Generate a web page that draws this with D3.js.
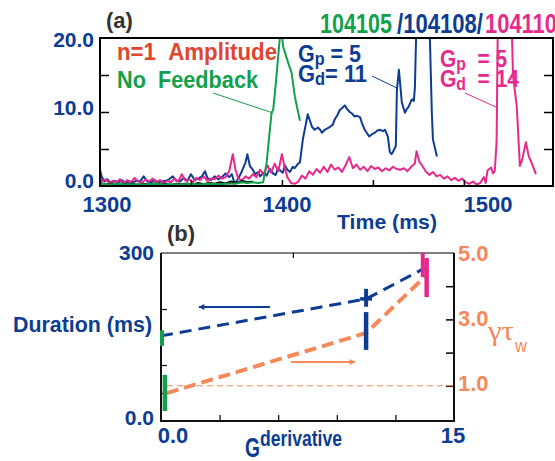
<!DOCTYPE html>
<html><head><meta charset="utf-8">
<script src="https://cdn.jsdelivr.net/npm/d3@7"></script>
<style>
body{margin:0;background:#fff}
svg{display:block}
text{font-family:"Liberation Sans",Arial,Helvetica,sans-serif;font-weight:bold;white-space:pre}
</style>
</head><body>
<svg id="chart" width="555" height="461"></svg>
<script>
// ---------- Panel (a) data ----------
const timeLabels = [1300, 1400, 1500];
const timeTicks = [1350, 1400, 1450, 1500];
const ampLabels = [0, 10, 20];
const ampTicks = [5, 10, 15];
const shotNames = ["104105", "/104108/", "104110"];

// 104105 : no feedback (green)
const shot104105 = [[1300,0.3],[1305,0.2],[1310,0.3],[1315,0.2],[1320,0.25],[1325,0.2],[1330,0.3],[1335,0.2],[1340,0.25],[1345,0.2],[1350,0.3],[1355,0.2],[1360,0.3],[1365,0.25],[1370,0.3],[1375,0.35],[1378,0.5],[1381,0.4],[1384,0.5],[1387,0.4],[1389.7,0.5],[1391.6,3.2],[1394.3,9.9],[1395.2,10.3],[1396.7,14],[1398.9,20.2],[1400,20.3],[1400.7,18.8],[1403.5,16.6],[1405.3,15.3],[1407.1,12.1],[1409.9,8.8]];

// 104108 : Gp=5, Gd=11 (blue)
const shot104108 = [[1300,2.2],[1301,1.2],[1302.5,0.6],[1304,0.9],[1306,0.4],[1308,0.7],[1310,0.5],[1312,0.8],[1314,0.4],[1316,0.6],[1318,0.5],[1320,0.7],[1322,0.6],[1324,1.3],[1326,0.6],[1328,0.5],[1330,0.8],[1332,0.5],[1334,0.6],[1336,0.7],[1338,0.9],[1340,1.3],[1342,0.7],[1344,0.6],[1346,1.1],[1348,0.7],[1350,1.6],[1352,0.8],[1354,1.0],[1356,1.3],[1357.7,2.0],[1359,1.1],[1361,0.8],[1363,1.3],[1365,0.9],[1367,1.2],[1369,1.7],[1371,1.2],[1372.5,1.6],[1374,0.3],[1376,1.0],[1378,2.0],[1380,3.2],[1381,4.3],[1382.4,2.7],[1384,2.2],[1385.3,1.6],[1387,1.9],[1388,1.3],[1390,1.8],[1391.5,1.4],[1393.4,2.3],[1395,1.7],[1396.5,1.5],[1398,2.4],[1399,2.1],[1400.5,1.8],[1401.6,2.8],[1403,2.2],[1404.4,1.9],[1406,2.6],[1407,2.4],[1408.8,3.0],[1409.9,3.2],[1411.5,6.3],[1414.2,9.7],[1416.5,8.0],[1418,7.6],[1419.8,7.9],[1421,7.6],[1422,7.2],[1423.5,7.6],[1425,7.8],[1426.4,8.0],[1428,8.3],[1429,9.0],[1430.5,9.6],[1431.9,10.3],[1433,10.5],[1434.6,10.9],[1435.5,10.5],[1437.3,10.0],[1438.5,9.8],[1439.8,9.4],[1441,9.5],[1442.9,9.3],[1444,8.5],[1445.5,7.6],[1446.6,7.2],[1448,6.7],[1449.5,7.0],[1451.1,7.2],[1452.5,7.5],[1454,7.6],[1455.5,7.4],[1456.6,7.6],[1458.2,6.7],[1459.3,4.6],[1460.2,4.3],[1461,4.6],[1462.6,5.4],[1463.2,13],[1464.3,15.7],[1465.9,11.3],[1467.6,9.9],[1468.6,10.4],[1469.6,10.7],[1471.4,11.7],[1472.5,11.5],[1473.1,13.4],[1474.2,25],[1480.8,25],[1482.4,9.9],[1483,6.3],[1485.2,4.0]];

// 104110 : Gp=5, Gd=14 (pink)
const shot104110 = [[1300,1.2],[1301,0.6],[1303,0.9],[1305,0.4],[1307,0.7],[1309,0.5],[1311,0.9],[1313,0.4],[1315,0.8],[1317,0.5],[1319,1.1],[1321,0.6],[1323,0.4],[1325,0.9],[1327,0.6],[1329,1.0],[1331,0.5],[1333,0.8],[1335,0.4],[1337,0.7],[1339,0.5],[1341,1.0],[1343,0.6],[1345,1.6],[1347,0.7],[1349,0.9],[1351,0.5],[1353,1.1],[1355,0.8],[1357,1.3],[1359,0.7],[1361,1.0],[1363,0.9],[1365,1.4],[1367,1.0],[1369,1.2],[1371,2.0],[1373,4.3],[1374.5,2.2],[1376,1.0],[1378,0.8],[1380,1.3],[1382,1.0],[1384,1.6],[1386,1.2],[1388,2.2],[1390,1.5],[1392,2.8],[1394,1.8],[1396,3.0],[1398,2.0],[1400,4.3],[1401.5,2.5],[1403,1.2],[1405,0.4],[1407,0.3],[1409,0.6],[1411,1.4],[1413,1.0],[1415,2.0],[1417,1.5],[1419,2.3],[1421,1.8],[1423,2.6],[1425,1.9],[1427,2.9],[1429,2.2],[1431,2.5],[1433,1.9],[1435,2.8],[1437,3.9],[1439,2.4],[1441,2.9],[1443,2.2],[1445,2.6],[1447,2.0],[1449,2.7],[1451,2.3],[1453,2.5],[1455,2.0],[1457,2.4],[1459,2.1],[1461,2.6],[1463,2.3],[1465,2.2],[1467,2.4],[1469,2.0],[1471,2.6],[1473,3.0],[1474,4.7],[1475.5,3.3],[1477,2.8],[1479,2.0],[1481,1.5],[1483,1.9],[1485,1.3],[1487,1.5],[1489,1.0],[1491,1.3],[1493,0.8],[1495,1.1],[1497,0.7],[1499,1.0],[1501,0.5],[1503,0.3],[1505,0.6],[1507,0.2],[1509,0.4],[1511,1.2],[1512,0.4],[1513,2.1],[1515,2.5],[1516,1.7],[1517,2.0],[1518,6],[1518.8,25],[1526,25],[1527,15],[1529.1,10.7],[1530.8,2.7],[1532,3.5],[1534.1,5.9],[1535.7,4.0],[1537.5,3.0],[1539.6,1.6]];

// baseline reference trace (black)
const baselineTrace = [[1300,0.4],[1303,0.2],[1306,0.3],[1309,0.15],[1312,0.35],[1315,0.2],[1318,0.3],[1321,0.15],[1324,0.3],[1327,0.2],[1330,0.35],[1333,0.2],[1336,0.3],[1339,0.15],[1342,0.3],[1345,0.25],[1348,0.35],[1351,0.2],[1354,0.4],[1357,0.25],[1360,0.45],[1363,0.3],[1366,0.5],[1369,0.35],[1372,0.6],[1375,0.4],[1378,0.7],[1381,0.5],[1384,0.6]];

// ---------- Panel (b) data ----------
const gainLabels = [0, 15];
const gainTicks = [3, 6, 9, 12];
const gainTopTicks = [6.75];
const durationLabels = [0, 300];
const durationTicks = [50, 100, 200];
const growthLabels = [1, 3, 5];
const growthTicks = [1, 2, 3, 4];

const durationG = [0, 10.5, 13.5];
const durationVals = [152, 218, 273];
const growthG = [0.3, 10.5, 13.5];
const growthVals = [0.78, 2.59, 4.28];

const durErrG = [0.05, 10.5, 13.4];
const durErrLo = [134, 204, 257];
const durErrHi = [162, 236, 300];
const growErrG = [0.2, 10.5, 13.6];
const growErrLo = [0.24, 2.08, 3.67];
const growErrHi = [1.33, 3.22, 4.85];
const marginalGrowth = 1.0;

// ---------- styling ----------
const BLUE = "#0c3d92", GREEN = "#13a04b", PINK = "#e62a8c", RED = "#e0452e", ORANGE = "#f6895a", GREY = "#333";
const errColors = [GREEN, BLUE, PINK];
const NB = "\u00A0";

const svg = d3.select("#chart");
svg.append("rect").attr("width", 555).attr("height", 461).attr("fill", "#fff");

function txt(x, y, s, size, color, opts = {}) {
  const t = svg.append("text").attr("x", x).attr("y", y).attr("font-size", size).attr("fill", color).text(s);
  if (opts.anchor) t.attr("text-anchor", opts.anchor);
  if (opts.width) t.attr("textLength", opts.width).attr("lengthAdjust", "spacingAndGlyphs");
  if (opts.family) t.style("font-family", opts.family);
  if (opts.weight) t.style("font-weight", opts.weight);
  return t;
}

// ================= Panel (a) =================
const xA = d3.scaleLinear().domain([1300, 1549]).range([100, 553]);
const yA = d3.scaleLinear().domain([0, 20]).range([186, 38]);
const xALab = d3.scaleLinear().domain([1300, 1400, 1500]).range([107, 287, 488]);
const yALab = d3.scaleLinear().domain([0, 10, 20]).range([180, 107.5, 39.5]);

svg.append("clipPath").attr("id", "clipA").append("rect")
  .attr("x", xA(1300)).attr("y", yA(20)).attr("width", xA(1549) - xA(1300)).attr("height", yA(0) - yA(20));

const lineA = d3.line().x(d => xA(d[0])).y(d => yA(d[1]));
const gTr = svg.append("g").attr("clip-path", "url(#clipA)");
[[shot104108, BLUE], [shot104110, PINK], [baselineTrace, "#111"], [shot104105, GREEN]].forEach(([d, c]) => {
  gTr.append("path").datum(d).attr("d", lineA).attr("fill", "none").attr("stroke", c)
    .attr("stroke-width", 2).attr("stroke-linejoin", "round");
});

// frame
svg.append("rect").attr("x", xA(1300)).attr("y", yA(20)).attr("width", xA(1549) - xA(1300)).attr("height", yA(0) - yA(20))
  .attr("fill", "none").attr("stroke", "#000").attr("stroke-width", 2);

function styleTicks(g, w) { g.select(".domain").remove(); g.selectAll("line").attr("stroke", "#000").attr("stroke-width", w || 1.5); }
svg.append("g").attr("transform", `translate(${xA(1300)},0)`)
  .call(d3.axisLeft(yA).tickValues(ampTicks).tickSize(-9).tickFormat("")).call(g => styleTicks(g));
svg.append("g").attr("transform", `translate(${xA(1549)},0)`)
  .call(d3.axisRight(yA).tickValues(ampTicks).tickSize(-9).tickFormat("")).call(g => styleTicks(g));
svg.append("g").attr("transform", `translate(0,${yA(0)})`)
  .call(d3.axisBottom(xA).tickValues(timeTicks).tickSize(-6).tickFormat("")).call(g => styleTicks(g));

// tick labels
timeLabels.forEach(v => txt(xALab(v), 212, String(v), 22, BLUE, { anchor: "middle" }));
ampLabels.forEach(v => txt(94, yALab(v) + 7.5, v.toFixed(1), 21, BLUE, { anchor: "end" }));
txt(387, 229, "Time (ms)", 21, BLUE, { anchor: "middle", width: 100 });
txt(106, 28, "(a)", 22, GREY);

// annotations
txt(117, 60, "n=1" + NB + NB + "Amplitude", 23, RED, { width: 160 });
txt(117, 88, "No" + NB + NB + "Feedback", 23, GREEN, { width: 141 });
txt(320, 33, shotNames[0], 27, GREEN, { width: 72 });
txt(397, 33, shotNames[1], 27, BLUE, { width: 86 });
txt(485, 33, shotNames[2], 27, PINK, { width: 72 });

function gainText(x, y, sub, rest, color, width) {
  const t = svg.append("text").attr("x", x).attr("y", y).attr("font-size", 24).attr("fill", color)
    .attr("textLength", width).attr("lengthAdjust", "spacingAndGlyphs");
  t.append("tspan").text("G");
  t.append("tspan").attr("font-size", 18).attr("dy", 3).text(sub);
  t.append("tspan").attr("dy", -3).text(rest);
}
gainText(298, 62, "p", NB + "=" + NB + "5", BLUE, 63);
gainText(298, 82, "d", "=" + NB + "11", BLUE, 69);
gainText(440, 67, "p", NB + NB + "=" + NB + "5", PINK, 67);
gainText(440, 87, "d", NB + NB + "=" + NB + "14", PINK, 79);

function leader(x1, y1, x2, y2, c) {
  svg.append("line").attr("x1", x1).attr("y1", y1).attr("x2", x2).attr("y2", y2).attr("stroke", c).attr("stroke-width", 1);
}
leader(213, 93, 273, 113, GREEN);
leader(372, 76, 397, 88, BLUE);
leader(465, 93, 498, 108, PINK);

// ================= Panel (b) =================
const xB = d3.scaleLinear().domain([0, 15]).range([161, 454]);
const yDur = d3.scaleLinear().domain([0, 300]).range([421, 253]);
const yGam = d3.scaleLinear().domain([0, 5]).range([419, 253]);
const xBLab = d3.scaleLinear().domain([0, 15]).range([173, 453]);
const yDurLab = d3.scaleLinear().domain([0, 300]).range([417, 252]);
const yGamLab = d3.scaleLinear().domain([1, 5]).range([383, 253]);

// frame
svg.append("line").attr("x1", xB(0)).attr("x2", xB(15)).attr("y1", yDur(300)).attr("y2", yDur(300)).attr("stroke", "#555").attr("stroke-width", 1.5);
svg.append("line").attr("x1", xB(0)).attr("x2", xB(0)).attr("y1", yDur(300)).attr("y2", yDur(0)).attr("stroke", "#111").attr("stroke-width", 2);
svg.append("line").attr("x1", xB(15)).attr("x2", xB(15)).attr("y1", yDur(300)).attr("y2", yDur(0)).attr("stroke", "#111").attr("stroke-width", 2);
svg.append("line").attr("x1", xB(0) - 1).attr("x2", xB(15) + 1).attr("y1", yDur(0)).attr("y2", yDur(0)).attr("stroke", "#111").attr("stroke-width", 2);

svg.append("g").attr("transform", `translate(0,${yDur(0)})`)
  .call(d3.axisBottom(xB).tickValues(gainTicks).tickSize(-6).tickFormat("")).call(g => styleTicks(g, 1.2));
svg.append("g").attr("transform", `translate(0,${yDur(300)})`)
  .call(d3.axisTop(xB).tickValues(gainTopTicks).tickSize(-5).tickFormat("")).call(g => styleTicks(g, 1.2));
svg.append("g").attr("transform", `translate(${xB(0)},0)`)
  .call(d3.axisLeft(yDur).tickValues(durationTicks).tickSize(-6).tickFormat("")).call(g => styleTicks(g, 1.2));
svg.append("g").attr("transform", `translate(${xB(15)},0)`)
  .call(d3.axisRight(yGam).tickValues(growthTicks).tickSize(-8).tickFormat("")).call(g => styleTicks(g, 1.5));

// marginal stability line
svg.append("line").attr("x1", xB(0.3)).attr("x2", xB(15)).attr("y1", yGam(marginalGrowth)).attr("y2", yGam(marginalGrowth))
  .attr("stroke", ORANGE).attr("stroke-width", 1).attr("stroke-dasharray", "6,4");

// dashed curves
const durLine = d3.line().x((d, i) => xB(durationG[i])).y(d => yDur(d));
const gamLine = d3.line().x((d, i) => xB(growthG[i])).y(d => yGam(d));
svg.append("path").datum(durationVals).attr("d", durLine).attr("fill", "none").attr("stroke", BLUE)
  .attr("stroke-width", 3).attr("stroke-dasharray", "12,7");
svg.append("path").datum(growthVals).attr("d", gamLine).attr("fill", "none").attr("stroke", ORANGE)
  .attr("stroke-width", 4).attr("stroke-dasharray", "12,6");

// error bars
durErrG.forEach((g, i) => {
  svg.append("line").attr("x1", xB(g)).attr("x2", xB(g)).attr("y1", yDur(durErrLo[i])).attr("y2", yDur(durErrHi[i]))
    .attr("stroke", errColors[i]).attr("stroke-width", 4);
});
growErrG.forEach((g, i) => {
  svg.append("line").attr("x1", xB(g)).attr("x2", xB(g)).attr("y1", yGam(growErrLo[i])).attr("y2", yGam(growErrHi[i]))
    .attr("stroke", errColors[i]).attr("stroke-width", 4.5);
});
// cross arm on blue point
svg.append("line").attr("x1", xB(durErrG[1]) - 6).attr("x2", xB(durErrG[1]) + 6)
  .attr("y1", yDur(durationVals[1])).attr("y2", yDur(durationVals[1])).attr("stroke", BLUE).attr("stroke-width", 3.5);

// arrows
const defs = svg.append("defs");
[["arB", BLUE], ["arO", ORANGE]].forEach(([id, c]) => {
  defs.append("marker").attr("id", id).attr("viewBox", "0 0 10 10").attr("refX", 9).attr("refY", 5)
    .attr("markerWidth", 9).attr("markerHeight", 6).attr("markerUnits", "userSpaceOnUse").attr("orient", "auto")
    .append("path").attr("d", "M0,0 L10,5 L0,10 z").attr("fill", c);
});
svg.append("line").attr("x1", 270).attr("y1", 307).attr("x2", 199).attr("y2", 307)
  .attr("stroke", BLUE).attr("stroke-width", 2).attr("marker-end", "url(#arB)");
svg.append("line").attr("x1", 291).attr("y1", 362).attr("x2", 355).attr("y2", 362)
  .attr("stroke", ORANGE).attr("stroke-width", 2).attr("marker-end", "url(#arO)");

// labels
txt(167, 241, "(b)", 22, GREY);
durationLabels.forEach(v => txt(154, yDurLab(v) + 7.5, v === 0 ? "0.0" : String(v), 21, BLUE, { anchor: "end" }));
growthLabels.forEach(v => txt(458, yGamLab(v) + 8, v.toFixed(1), 22, ORANGE));
gainLabels.forEach(v => txt(xBLab(v), 443, v === 0 ? "0.0" : String(v), 22, BLUE, { anchor: "middle" }));
txt(13, 332, "Duration (ms)", 22, BLUE, { width: 139 });

txt(245, 457, "G", 27, BLUE, { width: 15 });
txt(260, 446, "derivative", 22, BLUE, { width: 82 });

txt(488, 340, "γτ", 27, ORANGE, { family: "'Liberation Serif','DejaVu Serif',serif", weight: "normal", width: 26 });
txt(515, 352, "w", 19, ORANGE, { weight: "normal", width: 12 });
</script>
</body></html>
